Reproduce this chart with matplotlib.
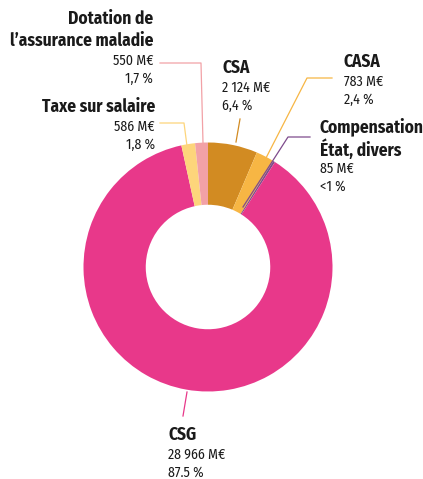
import matplotlib.pyplot as plt

plt.rcParams['font.family'] = ['Fira Sans Condensed', 'Fira Sans', 'Liberation Sans Narrow', 'DejaVu Sans']

# slices, clockwise from top
labels = [['CSA'], ['CASA'], ['Compensation', 'État, divers'], ['CSG'],
          ['Taxe sur salaire'], ['Dotation de', 'l’assurance maladie']]
values = [2124, 783, 85, 28966, 586, 550]
amounts = ['2 124 M€', '783 M€', '85 M€', '28 966 M€', '586 M€', '550 M€']
shares = ['6,4 %', '2,4 %', '<1 %', '87.5 %', '1,8 %', '1,7 %']
colors = ['#D28B22', '#F7B644', '#7E4B8C', '#E8388A', '#FDD57B', '#F2A1A6']

W, H = 423, 479
fig = plt.figure(figsize=(W / 100, H / 100), dpi=100)
ax = fig.add_axes([0, 0, 1, 1])

cx, cy, r = 208, H - 267, 124.5
ax.pie(values, colors=colors, startangle=90, counterclock=False,
       center=(cx, cy), radius=r, frame=True,
       wedgeprops=dict(width=r * 0.5, linewidth=0))
ax.set_xlim(0, W)
ax.set_ylim(0, H)
ax.set_aspect('equal')
ax.axis('off')

def Y(y):
    return H - y

# label blocks: x, y of first title line, alignment
blocks = [
    (222, 68, 'left'),
    (344, 62, 'left'),
    (320, 127, 'left'),
    (168, 435, 'left'),
    (155, 107, 'right'),
    (153, 19, 'right'),
]
for (x, y, ha), lines, amt, sh in zip(blocks, labels, amounts, shares):
    for i, line in enumerate(lines):
        ax.text(x, Y(y + 22 * i), line, ha=ha, va='center', fontsize=12.5,
                fontweight='bold', color='#1a1a1a')
    y2 = y + 22 * (len(lines) - 1) + 20
    ax.text(x, Y(y2), amt, ha=ha, va='center', fontsize=10, color='#1a1a1a')
    ax.text(x, Y(y2 + 18), sh, ha=ha, va='center', fontsize=10, color='#1a1a1a')

# leader lines
leaders = [
    ([240, 236], [119, 142], colors[0]),
    ([332, 307, 266], [78, 78, 158], colors[1]),
    ([310, 288, 243], [137, 137, 207], colors[2]),
    ([187, 183], [392, 416], colors[3]),
    ([160, 184, 187], [123, 123, 146], colors[4]),
    ([160, 201, 203], [63, 63, 143], colors[5]),
]
for xs, ys, c in leaders:
    ax.plot(xs, [Y(v) for v in ys], color=c, linewidth=0.9)

fig.savefig('out.png', dpi=100)
